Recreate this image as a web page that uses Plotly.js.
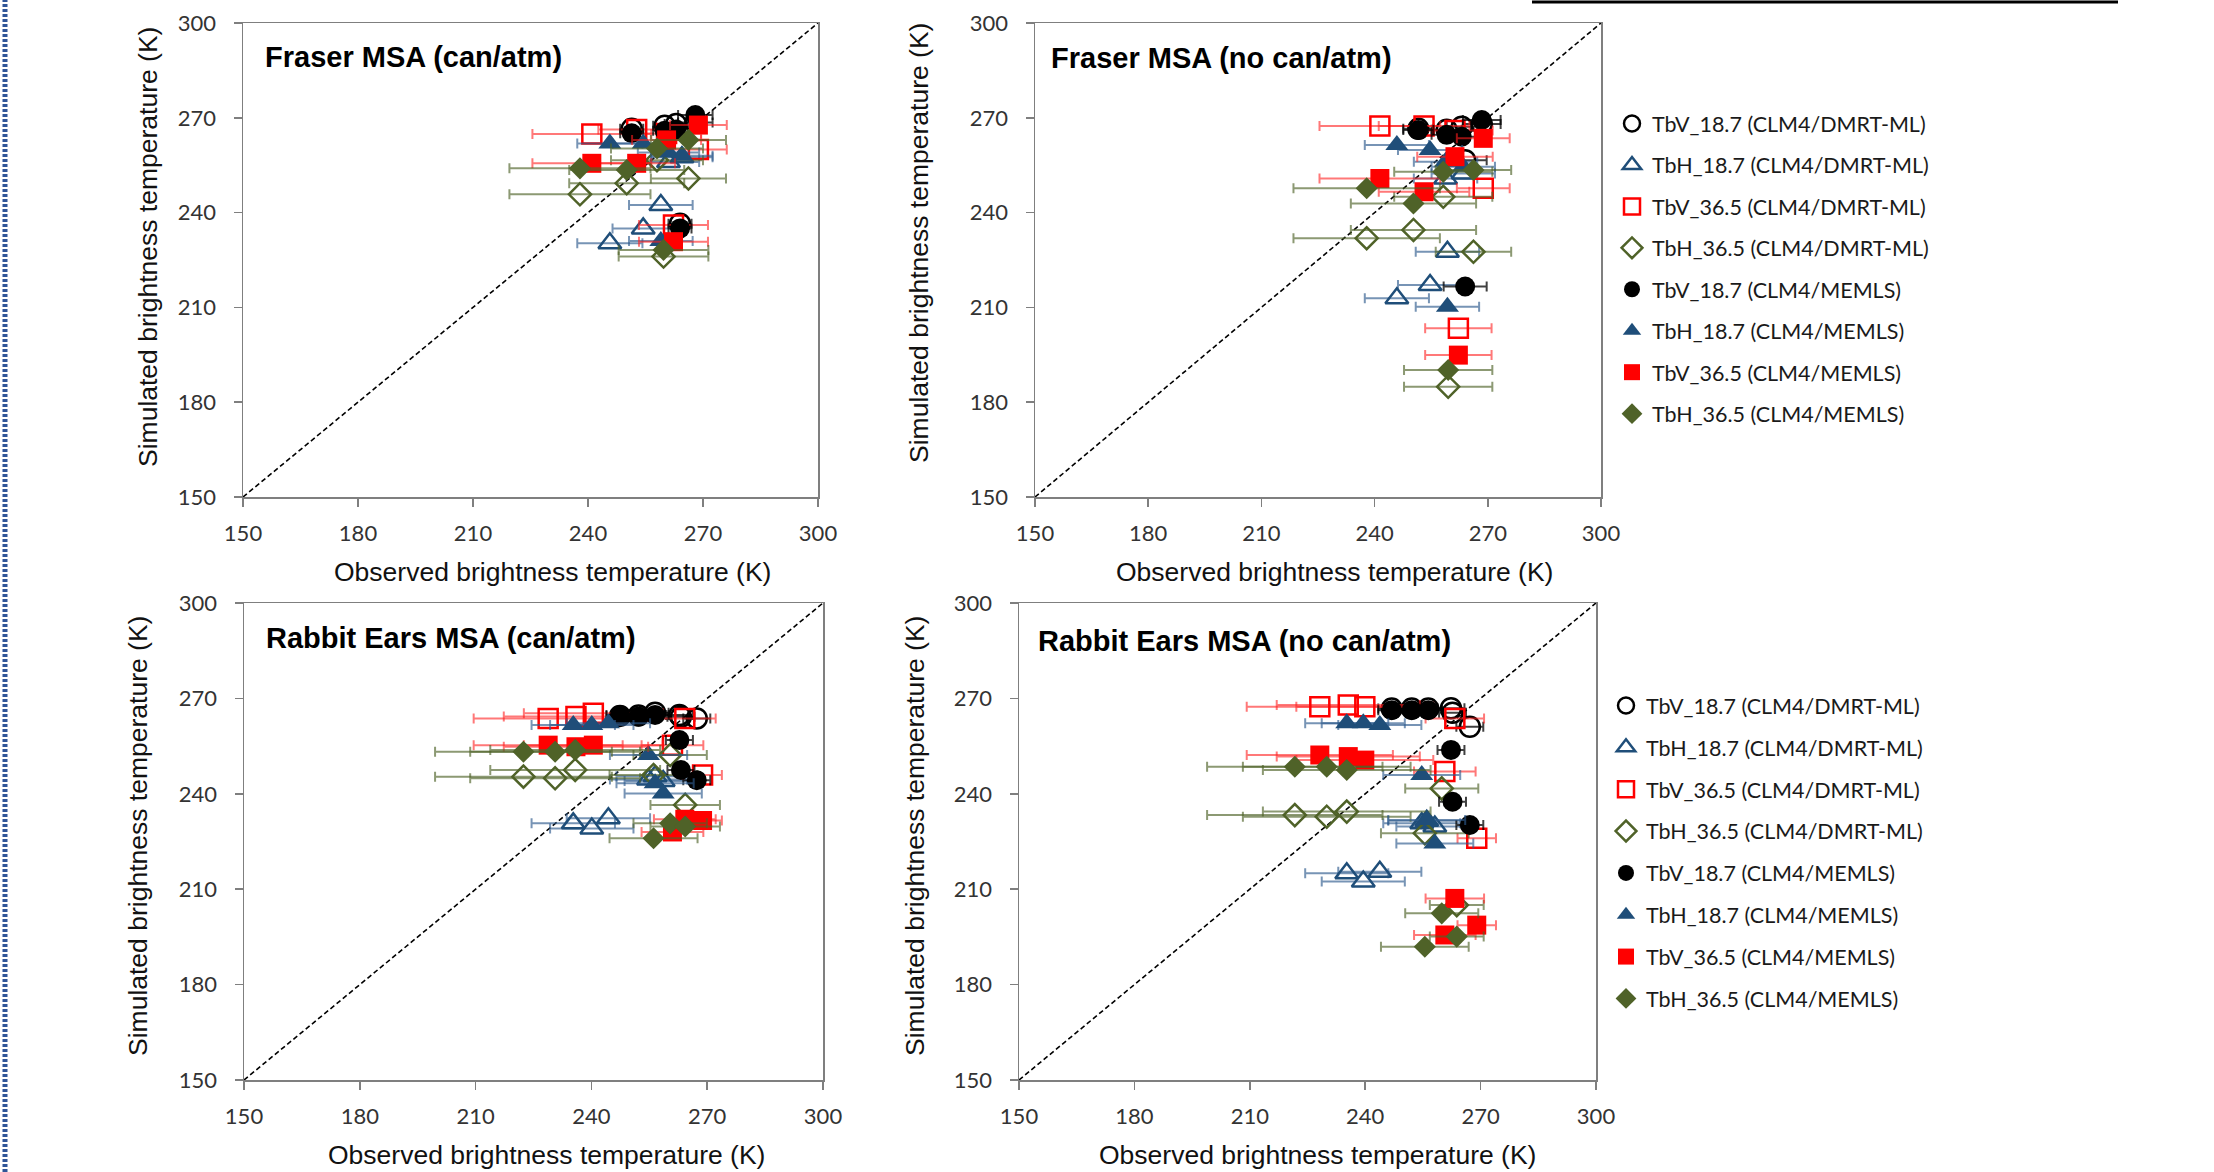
<!DOCTYPE html>
<html>
<head>
<meta charset="utf-8">
<script src="https://cdn.plot.ly/plotly-3.0.1.min.js"></script>
<style>html,body{margin:0;padding:0;background:#fff;}#chart{width:2214px;height:1172px;}</style>
</head>
<body>
<div id="chart"></div>
<script>
// ---------- Series / labels ----------
const seriesNames = [
  'TbV_18.7 (CLM4/DMRT-ML)', 'TbH_18.7 (CLM4/DMRT-ML)', 'TbV_36.5 (CLM4/DMRT-ML)', 'TbH_36.5 (CLM4/DMRT-ML)',
  'TbV_18.7 (CLM4/MEMLS)', 'TbH_18.7 (CLM4/MEMLS)', 'TbV_36.5 (CLM4/MEMLS)', 'TbH_36.5 (CLM4/MEMLS)'
];
const panelTitles = ['Fraser MSA (can/atm)', 'Fraser MSA (no can/atm)', 'Rabbit Ears MSA (can/atm)', 'Rabbit Ears MSA (no can/atm)'];
const xTitle = 'Observed brightness temperature (K)';
const yTitle = 'Simulated brightness temperature (K)';
const tickValues = [150, 180, 210, 240, 270, 300];
const oneToOne = [150, 300];

// ---------- Panel 1: Fraser MSA (can/atm) ----------
const p1_V18_obs = [251.4, 260.0, 263.0, 268.0, 264.0];
const p1_V18_err = [3, 3, 3, 4.5, 3];
const p1_V18_dmrt = [266.5, 267.5, 268.0, 268.5, 236.5];
const p1_V18_memls = [265.1, 265.9, 266.3, 270.9, 235.0];
const p1_H18_obs = [245.7, 254.4, 261.0, 264.5, 259.0];
const p1_H18_err = [8.5, 8, 8, 8, 8.3];
const p1_H18_dmrt = [230.3, 235.0, 256.0, 257.5, 242.4];
const p1_H18_memls = [261.9, 261.9, 259.0, 258.0, 231.0];
const p1_V36_obs = [241.0, 252.7, 260.5, 268.8, 262.3];
const p1_V36_err = [15.5, 10, 9, 7.4, 9];
const p1_V36_dmrt = [264.9, 266.3, 265.0, 260.0, 236.1];
const p1_V36_memls = [255.6, 255.6, 263.0, 267.7, 230.8];
const p1_H36_obs = [237.9, 250.1, 258.0, 266.2, 259.7];
const p1_H36_err = [18.4, 15, 12, 9.8, 11.7];
const p1_H36_dmrt = [245.8, 249.3, 256.6, 250.8, 226.1];
const p1_H36_memls = [254.0, 253.5, 260.3, 263.0, 228.2];

// ---------- Panel 2: Fraser MSA (no can/atm) ----------
const p2_V18_obs = [251.6, 259.1, 263.1, 268.4, 264.0];
const p2_V18_err = [4, 4, 4, 5, 5.7];
const p2_V18_dmrt = [266.5, 266.2, 267.2, 268.0, 256.6];
const p2_V18_memls = [266.1, 264.6, 264.0, 269.3, 216.6];
const p2_H18_obs = [245.9, 254.7, 258.8, 263.5, 259.3];
const p2_H18_err = [8.5, 8.5, 8.4, 8.4, 8.4];
const p2_H18_dmrt = [212.9, 217.1, 250.8, 252.4, 227.6];
const p2_H18_memls = [261.4, 259.8, 256.1, 254.5, 210.2];
const p2_V36_obs = [241.4, 253.1, 261.3, 268.8, 262.2];
const p2_V36_err = [16, 12, 10, 7, 8.8];
const p2_V36_dmrt = [267.4, 267.4, 266.0, 247.7, 203.4];
const p2_V36_memls = [250.8, 246.6, 257.7, 263.5, 194.9];
const p2_H36_obs = [237.9, 250.3, 258.2, 266.2, 259.5];
const p2_H36_err = [19.4, 16.6, 13, 10, 11.7];
const p2_H36_dmrt = [231.9, 234.5, 245.0, 227.6, 184.9];
const p2_H36_memls = [247.7, 242.9, 252.9, 253.5, 190.2];

// ---------- Panel 3: Rabbit Ears MSA (can/atm) ----------
const p3_V18_obs = [247.4, 252.2, 256.5, 262.8, 263.2, 267.3];
const p3_V18_err = [3.5, 3.5, 3.5, 3.5, 3.5, 3.5];
const p3_V18_dmrt = [264.5, 264.6, 265.5, 264.8, 264.2, 263.7];
const p3_V18_memls = [264.8, 264.3, 264.8, 256.9, 247.5, 244.3];
const p3_H18_obs = [235.3, 240.1, 244.4, 254.8, 256.5, 258.6];
const p3_H18_err = [10.8, 10.8, 10.8, 10, 10, 10];
const p3_H18_dmrt = [230.7, 229.1, 232.3, 244.5, 245.5, 244.0];
const p3_H18_memls = [261.6, 261.6, 262.2, 252.2, 243.3, 240.1];
const p3_V36_obs = [228.8, 236.0, 240.5, 261.0, 264.2, 268.8];
const p3_V36_err = [19.3, 18.7, 18, 8, 8, 5];
const p3_V36_dmrt = [263.7, 264.3, 265.3, 255.3, 263.7, 245.9];
const p3_V36_memls = [255.3, 254.8, 255.3, 228.0, 232.0, 231.6];
const p3_H36_obs = [222.4, 230.6, 235.8, 256.1, 260.4, 264.3];
const p3_H36_err = [22.9, 22, 22, 11.4, 9.5, 9];
const p3_H36_dmrt = [245.4, 244.9, 247.5, 245.9, 252.2, 236.5];
const p3_H36_memls = [253.2, 253.2, 253.8, 226.0, 230.7, 229.7];

// ---------- Panel 4: Rabbit Ears MSA (no can/atm) ----------
const p4_V18_obs = [246.9, 252.1, 256.4, 262.3, 262.7, 267.2];
const p4_V18_err = [3.5, 3.5, 3.5, 3.5, 3.5, 3.5];
const p4_V18_dmrt = [266.8, 266.8, 266.8, 266.9, 265.5, 261.1];
const p4_V18_memls = [266.3, 266.3, 266.3, 253.8, 237.5, 230.2];
const p4_H18_obs = [235.2, 239.5, 243.8, 254.7, 256.0, 258.1];
const p4_H18_err = [10.8, 10.8, 10.8, 10, 10, 10];
const p4_H18_dmrt = [215.0, 212.4, 215.5, 230.7, 231.5, 229.7];
const p4_H18_memls = [262.2, 262.2, 261.6, 245.9, 231.8, 224.4];
const p4_V36_obs = [228.2, 235.6, 239.9, 260.7, 263.3, 269.0];
const p4_V36_err = [19, 18.6, 17.8, 8, 7.6, 5];
const p4_V36_dmrt = [267.4, 267.9, 267.4, 247.0, 263.7, 226.0];
const p4_V36_memls = [252.2, 251.7, 250.6, 195.6, 207.1, 198.7];
const p4_H36_obs = [221.7, 230.0, 235.2, 255.5, 259.9, 263.8];
const p4_H36_err = [22.8, 21.8, 21.8, 11.4, 9.5, 7];
const p4_H36_dmrt = [233.3, 232.8, 234.4, 227.6, 241.7, 205.0];
const p4_H36_memls = [248.5, 248.5, 247.5, 191.9, 202.4, 195.1];

// ---------- assemble ----------
const panels = [
  {V18:[p1_V18_obs,p1_V18_err,p1_V18_dmrt,p1_V18_memls], H18:[p1_H18_obs,p1_H18_err,p1_H18_dmrt,p1_H18_memls], V36:[p1_V36_obs,p1_V36_err,p1_V36_dmrt,p1_V36_memls], H36:[p1_H36_obs,p1_H36_err,p1_H36_dmrt,p1_H36_memls]},
  {V18:[p2_V18_obs,p2_V18_err,p2_V18_dmrt,p2_V18_memls], H18:[p2_H18_obs,p2_H18_err,p2_H18_dmrt,p2_H18_memls], V36:[p2_V36_obs,p2_V36_err,p2_V36_dmrt,p2_V36_memls], H36:[p2_H36_obs,p2_H36_err,p2_H36_dmrt,p2_H36_memls]},
  {V18:[p3_V18_obs,p3_V18_err,p3_V18_dmrt,p3_V18_memls], H18:[p3_H18_obs,p3_H18_err,p3_H18_dmrt,p3_H18_memls], V36:[p3_V36_obs,p3_V36_err,p3_V36_dmrt,p3_V36_memls], H36:[p3_H36_obs,p3_H36_err,p3_H36_dmrt,p3_H36_memls]},
  {V18:[p4_V18_obs,p4_V18_err,p4_V18_dmrt,p4_V18_memls], H18:[p4_H18_obs,p4_H18_err,p4_H18_dmrt,p4_H18_memls], V36:[p4_V36_obs,p4_V36_err,p4_V36_dmrt,p4_V36_memls], H36:[p4_H36_obs,p4_H36_err,p4_H36_dmrt,p4_H36_memls]}
];

const chanKeys = ['V18','H18','V36','H36'];
const chanColor = {V18:'#000000', H18:'#1F4E79', V36:'#FF0000', H36:'#4F6228'};
const chanErrColor = {V18:'rgba(0,0,0,0.75)', H18:'rgba(46,90,142,0.65)', V36:'rgba(255,30,30,0.6)', H36:'rgba(79,98,40,0.65)'};
const chanSymbol = {V18:'circle', H18:'triangle-up', V36:'square', H36:'diamond'};
const chanSize = {V18:20, H18:20, V36:19, H36:17};

const axisIds = [['x','y'],['x2','y2'],['x3','y3'],['x4','y4']];
const traces = [];

panels.forEach((p, pi) => {
  const [xa, ya] = axisIds[pi];
  traces.push({
    x: oneToOne, y: oneToOne, xaxis: xa, yaxis: ya, mode: 'lines',
    line: {color: '#000', width: 1.6, dash: '5px,3px'},
    showlegend: false, hoverinfo: 'skip'
  });
  for (let m = 0; m < 2; m++) {           // 0 = DMRT-ML (open), 1 = MEMLS (filled)
    chanKeys.forEach((ck, ci) => {
      const s = m * 4 + ci;
      const d = p[ck];
      const open = m === 0;
      traces.push({
        x: d[0], y: open ? d[2] : d[3],
        xaxis: xa, yaxis: ya, mode: 'markers', type: 'scatter',
        name: seriesNames[s], legendgroup: 'g' + s,
        marker: {
          symbol: chanSymbol[ck] + (open ? '-open' : ''),
          size: chanSize[ck], color: chanColor[ck],
          line: {color: chanColor[ck], width: open ? 2.5 : 0}
        },
        error_x: {type: 'data', array: d[1], visible: true, color: chanErrColor[ck], thickness: 2, width: 5},
        showlegend: pi === 0 || pi === 2,
        legend: pi === 2 ? 'legend2' : 'legend'
      });
    });
  }
});

// ---------- layout ----------
const W = 2214, H = 1172;
const boxes = [ // pixel boxes [left, right, top, bottom]
  [243, 818, 23, 497],
  [1035, 1601, 23, 497],
  [244, 823, 603, 1080],
  [1019, 1596, 603, 1080]
];
const tickFont = {family: 'Lato, "Open Sans", sans-serif', size: 22, color: '#333333'};
function xAxis(b, anchor) {
  return {domain: [b[0]/W, b[1]/W], anchor: anchor, range: [150, 300], tickvals: tickValues,
    showgrid: false, zeroline: false, showline: true, mirror: true, linecolor: '#7f7f7f', linewidth: 1.5,
    ticks: 'outside', ticklen: 8, tickcolor: '#7f7f7f', tickwidth: 1.5, tickfont: tickFont, ticklabelstandoff: 8};
}
function yAxis(b, anchor) {
  return {domain: [1 - b[3]/H, 1 - b[2]/H], anchor: anchor, range: [150, 300], tickvals: tickValues,
    showgrid: false, zeroline: false, showline: true, mirror: true, linecolor: '#7f7f7f', linewidth: 1.5,
    ticks: 'outside', ticklen: 8, tickcolor: '#7f7f7f', tickwidth: 1.5, tickfont: tickFont, ticklabelstandoff: 13};
}

const annotations = [];
const titleOffsets = [[20, 34], [14, 35], [20, 35], [17, 38]];
const xTitlePos = [[552, 572], [1334, 572], [546, 1155], [1317, 1155]];
const yTitlePos = [[148, 247], [919, 243], [138, 836], [915, 836]];
const axFont = {family: '"Liberation Sans", Arial, sans-serif', size: 26.5, color: '#111'};
boxes.forEach((b, i) => {
  const xa = axisIds[i][0], ya = axisIds[i][1];
  annotations.push({text: '<b>' + panelTitles[i] + '</b>', xref: xa + ' domain', yref: ya + ' domain',
    x: titleOffsets[i][0] / (b[1]-b[0]), y: 1 - titleOffsets[i][1] / (b[3]-b[2]),
    xanchor: 'left', yanchor: 'middle', showarrow: false,
    font: {family: '"Liberation Sans", Arial, sans-serif', size: 29, color: '#000'}});
  annotations.push({text: xTitle, xref: 'paper', yref: 'paper', x: xTitlePos[i][0]/W, y: 1 - xTitlePos[i][1]/H,
    xanchor: 'center', yanchor: 'middle', showarrow: false, font: axFont});
  annotations.push({text: yTitle, xref: 'paper', yref: 'paper', x: yTitlePos[i][0]/W, y: 1 - yTitlePos[i][1]/H,
    xanchor: 'center', yanchor: 'middle', showarrow: false, textangle: -90, font: axFont});
});

const legendFont = {family: 'Lato, "Open Sans", sans-serif', size: 21.5, color: '#1a1a1a'};
const layout = {
  width: W, height: H,
  margin: {l: 0, r: 0, t: 0, b: 0},
  paper_bgcolor: '#ffffff', plot_bgcolor: '#ffffff',
  xaxis: xAxis(boxes[0], 'y'), yaxis: yAxis(boxes[0], 'x'),
  xaxis2: xAxis(boxes[1], 'y2'), yaxis2: yAxis(boxes[1], 'x2'),
  xaxis3: xAxis(boxes[2], 'y3'), yaxis3: yAxis(boxes[2], 'x3'),
  xaxis4: xAxis(boxes[3], 'y4'), yaxis4: yAxis(boxes[3], 'x4'),
  legend: {x: 1612/W, y: 1 - 103/H, xanchor: 'left', yanchor: 'top', font: legendFont,
    bgcolor: 'rgba(0,0,0,0)', itemsizing: 'trace', tracegroupgap: 10.5, traceorder: 'grouped'},
  legend2: {x: 1606/W, y: 1 - 685/H, xanchor: 'left', yanchor: 'top', font: legendFont,
    bgcolor: 'rgba(0,0,0,0)', itemsizing: 'trace', tracegroupgap: 10.9, traceorder: 'grouped'},
  annotations: annotations,
  shapes: [
    {type: 'line', xref: 'paper', yref: 'paper', x0: 1532/W, x1: 2118/W, y0: 1 - 2/H, y1: 1 - 2/H,
      line: {color: '#000', width: 3}},
    {type: 'line', xref: 'paper', yref: 'paper', x0: 5/W, x1: 5/W, y0: 0, y1: 1,
      line: {color: '#2F5597', width: 5, dash: '3px,2px'}}
  ],
  showlegend: true
};

Plotly.newPlot('chart', traces, layout, {displayModeBar: false, staticPlot: true});
</script>
</body>
</html>
